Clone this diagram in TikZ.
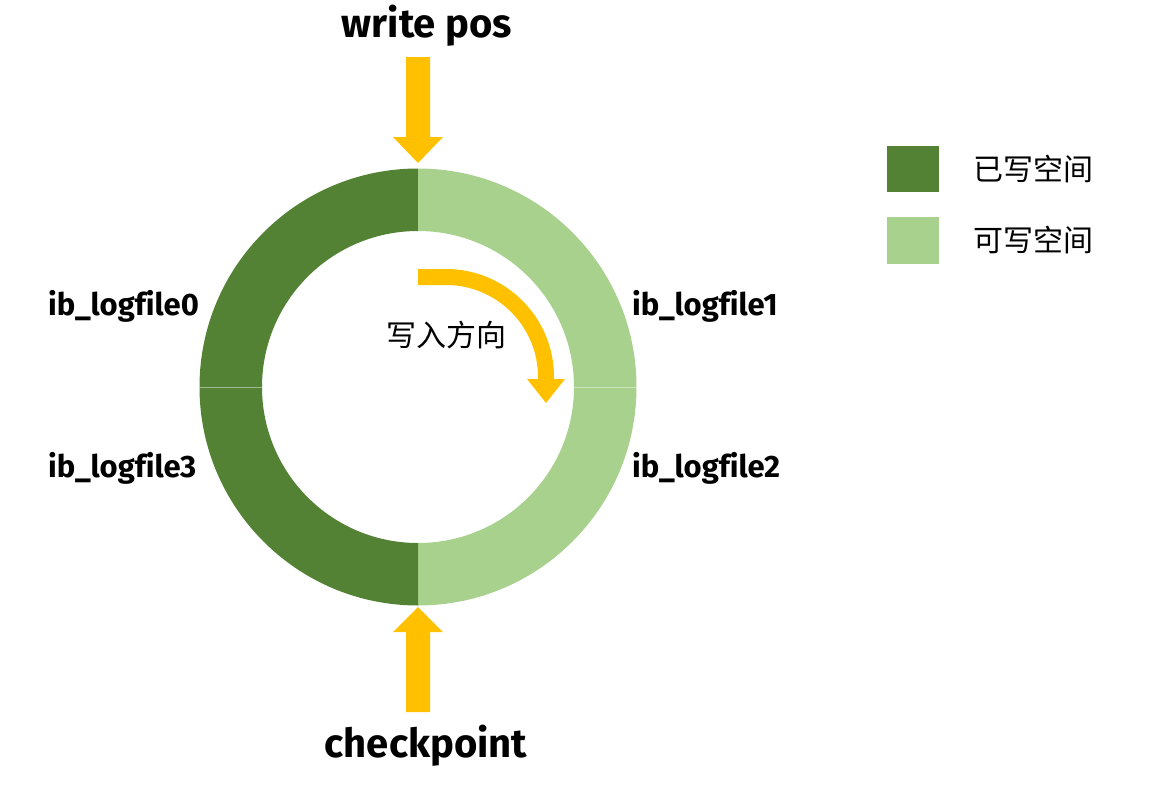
\documentclass[tikz,border=0pt]{standalone}
\usepackage{fontspec}
\setmainfont[Ligatures=CommonOff]{Fira Sans}
\newfontfamily\cjk{Noto Sans CJK SC}
\definecolor{darkg}{HTML}{548235}
\definecolor{lightg}{HTML}{A9D18E}
\definecolor{gold}{HTML}{FFC000}
\tikzset{
  lbl/.style={font=\fontsize{31}{31}\selectfont\bfseries, inner sep=0pt},
  bigl/.style={font=\fontsize{40}{40}\selectfont\bfseries, inner sep=0pt},
  cn/.style={font=\cjk\fontsize{30}{30}\selectfont, inner sep=0pt},
  blockarrow/.style={fill=gold},
  sep/.style={draw=white, draw opacity=0.45, line width=0.8pt},
}
\begin{document}
\begin{tikzpicture}[x=1pt,y=-1pt]
\useasboundingbox (0,0) rectangle (1154,795);
\coordinate (c) at (418,387);
% ring
\fill[darkg] (199.5,387) arc (180:270:218.5) -- (418,231) arc (270:180:156) -- cycle;
\fill[lightg] (418,168.5) arc (-90:0:218.5) -- (574,387) arc (0:-90:156) -- cycle;
\fill[lightg] (636.5,387) arc (0:90:218.5) -- (418,543) arc (90:0:156) -- cycle;
\fill[darkg] (418,605.5) arc (90:180:218.5) -- (262,387) arc (180:90:156) -- cycle;
\draw[sep] (199.5,387) -- (262,387);
\draw[sep] (574,387) -- (636.5,387);
% block arrows
\fill[blockarrow] (406,57) -- (430,57) -- (430,137) -- (443,137) -- (418,163) -- (393,137) -- (406,137) -- cycle;
\fill[blockarrow] (418,607) -- (443,632) -- (430,632) -- (430,712) -- (406,712) -- (406,632) -- (393,632) -- cycle;
% curved direction arrow
\coordinate (cs) at (418,277);
\coordinate (ce) at (546,380);
\draw[gold, line width=16pt] (cs) -- (446,277) arc (-90:0:100) -- (ce);
\fill[gold] (527,379) -- (565,379) -- (546,403) -- cycle;
% texts
\node[bigl, anchor=base] (wp) at (427,37) {write pos};
\node[bigl, anchor=base] (cp) at (426,757) {checkpoint};
\node[lbl, anchor=base west] (f0) at (48,315) {ib\_logfile0};
\node[lbl, anchor=base west] (f3) at (48,477) {ib\_logfile3};
\node[lbl, anchor=base west] (f1) at (632,315) {ib\_logfile1};
\node[lbl, anchor=base west] (f2) at (632,477) {ib\_logfile2};
\node[cn] (dir) at (446,335) {写入方向};
% legend
\fill[darkg] (887,146) rectangle (939,192);
\fill[lightg] (887,217) rectangle (939,264);
\node[cn, anchor=west] (l1) at (973,169) {已写空间};
\node[cn, anchor=west] (l2) at (973,240) {可写空间};
\end{tikzpicture}
\end{document}
